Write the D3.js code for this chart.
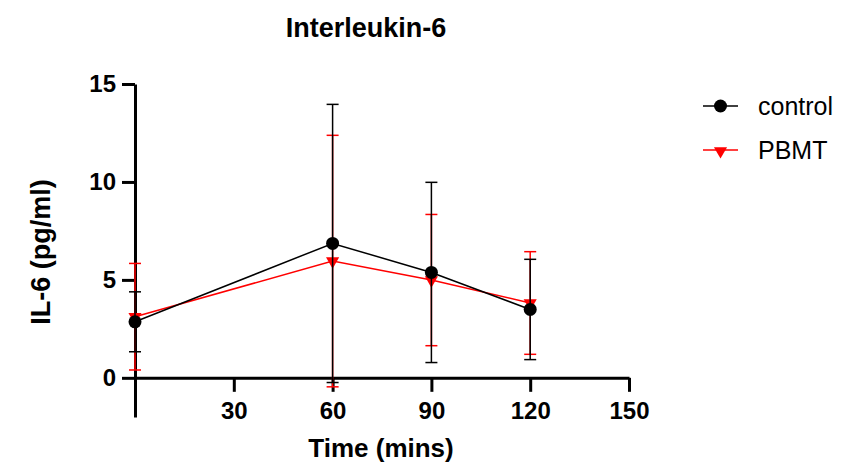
<!DOCTYPE html>
<html>
<head>
<meta charset="utf-8">
<script src="https://cdn.jsdelivr.net/npm/d3@7"></script>
<style>
  body { margin: 0; background: #fff; }
  svg text { font-family: Arial, "Liberation Sans", Helvetica, sans-serif; }
</style>
</head>
<body>
<div id="chart"></div>
<script>
"use strict";

// data (mean +/- SD)
var times = [0, 60, 90, 120];
var control_mean = [2.86, 6.86, 5.38, 3.49];
var control_sd = [1.53, 7.1, 4.6, 2.56];
var pbmt_mean = [3.12, 5.96, 4.99, 3.82];
var pbmt_sd = [2.72, 6.42, 3.35, 2.62];

var x_ticks = [30, 60, 90, 120, 150];
var y_ticks = [0, 5, 10, 15];

var w = 846, h = 470;

var svg = d3.select("#chart")
    .append("svg")
    .attr("width", w)
    .attr("height", h);

var x = d3.scaleLinear().domain([0, 150]).range([135, 629]);
var y = d3.scaleLinear().domain([-2, 15]).range([417, 84]);

// title
svg.append("text")
    .attr("x", 366)
    .attr("y", 37)
    .attr("text-anchor", "middle")
    .style("font-size", "27px")
    .style("font-weight", "bold")
    .text("Interleukin-6");

// y axis
var yAxis = svg.append("g")
    .attr("transform", "translate(" + x(0) + ",0)")
    .call(d3.axisLeft(y).tickValues(y_ticks).tickSize(13).tickSizeOuter(0).tickPadding(6));

// x axis sits at y = 0
var xAxis = svg.append("g")
    .attr("transform", "translate(0," + y(0) + ")")
    .call(d3.axisBottom(x).tickValues(x_ticks).tickSize(14).tickSizeOuter(0).tickPadding(10));

[yAxis, xAxis].forEach(function(ax){
    ax.select(".domain").attr("stroke", "#000").attr("stroke-width", 3);
    ax.selectAll(".tick line").attr("stroke", "#000").attr("stroke-width", 3);
    ax.selectAll(".tick text")
        .attr("fill", "#000")
        .style("font-size", "24px")
        .style("font-weight", "bold");
});

// axis titles
svg.append("text")
    .attr("transform", "translate(50,252) rotate(-90)")
    .attr("text-anchor", "middle")
    .style("font-size", "27px")
    .style("font-weight", "bold")
    .text("IL-6 (pg/ml)");

svg.append("text")
    .attr("x", 381)
    .attr("y", 457)
    .attr("text-anchor", "middle")
    .style("font-size", "26px")
    .style("font-weight", "bold")
    .text("Time (mins)");

var series = [
    { name: "control", mean: control_mean, sd: control_sd, color: "#000", shape: "circle" },
    { name: "PBMT", mean: pbmt_mean, sd: pbmt_sd, color: "#ff0000", shape: "triangle" }
];

var line = d3.line()
    .x(function(d){ return x(d.t); })
    .y(function(d){ return y(d.m); });

var tri = d3.symbol().type(d3.symbolTriangle).size(75);

function draw_marker(g, s, cx, cy){
    if(s.shape == "circle"){
        g.append("circle")
            .attr("cx", cx)
            .attr("cy", cy)
            .attr("r", 6.5)
            .attr("fill", s.color);
    }
    else {
        g.append("path")
            .attr("d", tri())
            .attr("transform", "translate(" + cx + "," + cy + ") rotate(180)")
            .attr("fill", s.color);
    }
}

// PBMT first so control sits on top
var capw = 6;
series.slice().reverse().forEach(function(s){
    var pts = times.map(function(t, i){ return { t: t, m: s.mean[i], sd: s.sd[i] }; });
    var g = svg.append("g");

    pts.forEach(function(d){
        var lo = y(d.m - d.sd), hi = y(d.m + d.sd), cx = x(d.t);
        g.append("line").attr("x1", cx).attr("x2", cx).attr("y1", lo).attr("y2", hi)
            .attr("stroke", s.color).attr("stroke-width", 1.5);
        g.append("line").attr("x1", cx - capw).attr("x2", cx + capw).attr("y1", hi).attr("y2", hi)
            .attr("stroke", s.color).attr("stroke-width", 1.5);
        g.append("line").attr("x1", cx - capw).attr("x2", cx + capw).attr("y1", lo).attr("y2", lo)
            .attr("stroke", s.color).attr("stroke-width", 1.5);
    });

    g.append("path")
        .datum(pts)
        .attr("d", line)
        .attr("fill", "none")
        .attr("stroke", s.color)
        .attr("stroke-width", 1.5);

    pts.forEach(function(d){
        draw_marker(g, s, x(d.t), y(d.m));
    });
});

// legend
series.forEach(function(s, i){
    var ly = 106 + i * 44;
    var g = svg.append("g");
    g.append("line")
        .attr("x1", 703).attr("x2", 738)
        .attr("y1", ly).attr("y2", ly)
        .attr("stroke", s.color)
        .attr("stroke-width", 1.5);
    draw_marker(g, s, 720.5, ly + (s.shape == "circle" ? 0 : 1));
    g.append("text")
        .attr("x", 758)
        .attr("y", ly + 9)
        .style("font-size", "25px")
        .attr("fill", "#000")
        .text(s.name);
});
</script>
</body>
</html>
